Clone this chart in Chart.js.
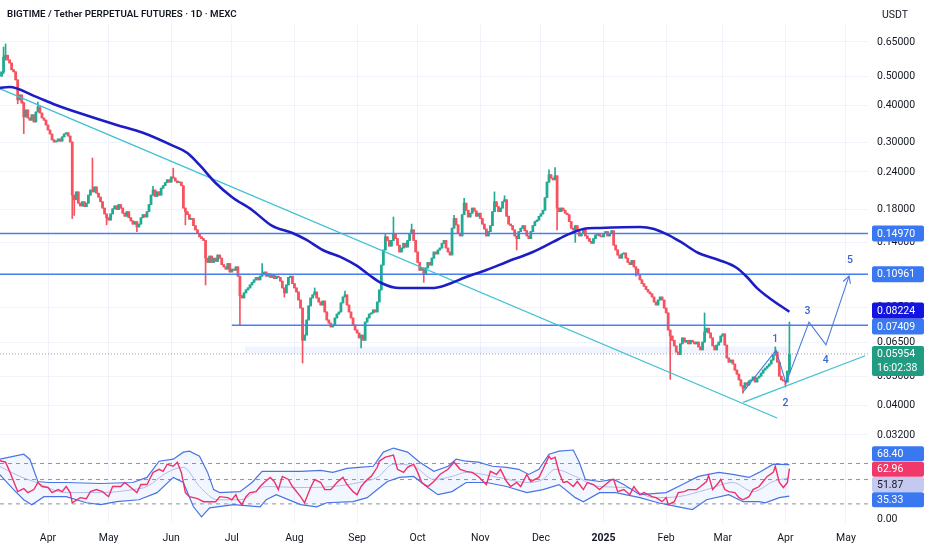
<!DOCTYPE html>
<html>
<head>
<meta charset="utf-8">
<script src="https://cdn.jsdelivr.net/npm/chart.js@4.4.1/dist/chart.umd.min.js"></script>
<style>
  html, body { margin: 0; padding: 0; background: #fff; }
  canvas { display: block; }
</style>
</head>
<body>
<canvas id="chart" width="932" height="550"></canvas>
<script>
/*===================================================================================*/
/*  data  (day 0 = 2024-04-01, one step = one daily candle)
/*===================================================================================*/
var title = 'BIGTIME / Tether PERPETUAL FUTURES \u00b7 1D \u00b7 MEXC';
var quote = 'USDT';
var countdown = '16:02:38';

var monthDays   = [0, 30, 61, 91, 122, 153, 183, 214, 244, 275, 306, 334, 365, 395];
var monthLabels = ['Apr', 'May', 'Jun', 'Jul', 'Aug', 'Sep', 'Oct', 'Nov', 'Dec', '2025', 'Feb', 'Mar', 'Apr', 'May'];
var priceTicks  = [0.65, 0.5, 0.4, 0.3, 0.24, 0.18, 0.14, 0.11, 0.085, 0.065, 0.05, 0.04, 0.032];

var firstDay  = -23;
var firstOpen = 0.500;
var closes = [
  0.5165, 0.579, 0.587, 0.566, 0.553, 0.525, 0.517, 0.486, 0.417, 0.433,
  0.407, 0.366, 0.386, 0.363, 0.357, 0.372, 0.352, 0.380, 0.395, 0.377,
  0.363, 0.357, 0.344, 0.331, 0.321, 0.307, 0.302, 0.304, 0.309, 0.304,
  0.314, 0.321, 0.324, 0.316, 0.302, 0.201, 0.194, 0.206, 0.189, 0.185,
  0.191, 0.184, 0.189, 0.201, 0.209, 0.206, 0.214, 0.204, 0.198, 0.191,
  0.182, 0.174, 0.169, 0.166, 0.174, 0.181, 0.185, 0.180, 0.187, 0.182,
  0.175, 0.171, 0.177, 0.169, 0.165, 0.161, 0.164, 0.1575, 0.161, 0.169,
  0.173, 0.170, 0.177, 0.187, 0.201, 0.209, 0.199, 0.206, 0.201, 0.212,
  0.216, 0.221, 0.226, 0.222, 0.231, 0.229, 0.224, 0.221, 0.222, 0.216,
  0.182, 0.177, 0.173, 0.167, 0.168, 0.159, 0.154, 0.150, 0.146, 0.144,
  0.142, 0.124, 0.120, 0.126, 0.120, 0.124, 0.121, 0.127, 0.124, 0.118,
  0.116, 0.114, 0.119, 0.1115, 0.114, 0.113, 0.116, 0.108, 0.093, 0.0914,
  0.095, 0.0972, 0.0987, 0.101, 0.103, 0.105, 0.107, 0.105, 0.108, 0.110,
  0.1115, 0.108, 0.110, 0.107, 0.109, 0.106, 0.108, 0.107, 0.104, 0.0987,
  0.095, 0.101, 0.107, 0.108, 0.102, 0.0987, 0.0957, 0.0900, 0.0846, 0.0661,
  0.0688, 0.0772, 0.0860, 0.0914, 0.0936, 0.0957, 0.0914, 0.0886, 0.0866, 0.0893,
  0.0821, 0.0772, 0.0754, 0.0732, 0.0743, 0.0784, 0.0808, 0.0821, 0.0880, 0.0921,
  0.0936, 0.0866, 0.0821, 0.0784, 0.0743, 0.0715, 0.0699, 0.0673, 0.0688, 0.0661,
  0.0760, 0.0784, 0.0808, 0.0815, 0.0834, 0.0821, 0.0886, 0.0972, 0.1176, 0.132,
  0.146, 0.142, 0.136, 0.142, 0.150, 0.144, 0.137, 0.130, 0.134, 0.139,
  0.135, 0.142, 0.150, 0.154, 0.142, 0.130, 0.120, 0.113, 0.115, 0.110,
  0.115, 0.120, 0.1176, 0.124, 0.130, 0.128, 0.132, 0.134, 0.139, 0.142,
  0.134, 0.130, 0.127, 0.156, 0.168, 0.160, 0.150, 0.147, 0.173, 0.189,
  0.179, 0.170, 0.175, 0.182, 0.178, 0.171, 0.175, 0.168, 0.161, 0.155,
  0.147, 0.152, 0.159, 0.177, 0.191, 0.184, 0.177, 0.182, 0.191, 0.194,
  0.171, 0.161, 0.159, 0.154, 0.147, 0.144, 0.152, 0.156, 0.159, 0.153,
  0.147, 0.144, 0.152, 0.159, 0.164, 0.166, 0.171, 0.174, 0.179, 0.197,
  0.222, 0.235, 0.229, 0.226, 0.233, 0.182, 0.177, 0.182, 0.179, 0.175,
  0.173, 0.164, 0.156, 0.154, 0.159, 0.152, 0.147, 0.150, 0.154, 0.147,
  0.144, 0.141, 0.139, 0.144, 0.148, 0.150, 0.147, 0.146, 0.150, 0.152,
  0.147, 0.150, 0.153, 0.137, 0.132, 0.127, 0.124, 0.128, 0.129, 0.124,
  0.120, 0.118, 0.122, 0.116, 0.114, 0.109, 0.105, 0.102, 0.100, 0.0975,
  0.0957, 0.0943, 0.0921, 0.0886, 0.0866, 0.0900, 0.0921, 0.0900, 0.0846, 0.0815,
  0.0715, 0.0683, 0.0661, 0.0633, 0.0604, 0.0592, 0.0643, 0.0673, 0.0652, 0.0661,
  0.0643, 0.0661, 0.0652, 0.0643, 0.0652, 0.0628, 0.0614, 0.0652, 0.0704, 0.0725,
  0.0699, 0.0673, 0.0633, 0.0614, 0.0637, 0.0652, 0.0683, 0.0694, 0.0637, 0.0577,
  0.0559, 0.0568, 0.0551, 0.0526, 0.0510, 0.0488, 0.0466, 0.0458, 0.0477, 0.0469,
  0.0484, 0.0488, 0.0499, 0.0480, 0.0495, 0.0502, 0.0514, 0.0526, 0.0534, 0.0542,
  0.0551, 0.0568, 0.0590, 0.0604, 0.0559, 0.0502, 0.0488, 0.0484, 0.0480, 0.0522,
  0.05954
];

// candles with visible wicks
var wickDays  = [-22, -21, -15, -12, -5, 12, 13, 22, 29, 44, 52, 62, 68, 78, 95, 106, 117, 126, 132, 147, 155,
                 167, 171, 180, 186, 201, 206, 221, 226, 232, 248, 251, 252, 261, 291, 308, 325, 344, 360, 365, 367];
var wickHighs = [0.625, 0.640, null, 0.410, 0.410, null, null, 0.267, null, null, 0.215, 0.247, null, null, null, 0.119,
                 null, null, 0.0987, 0.0964, null, 0.150, 0.170, 0.161, null, 0.172, 0.196, 0.206, 0.200, null,
                 0.244, 0.248, null, null, null, null, 0.0815, null, 0.0628, null, 0.0760];
var wickLows  = [0.510, 0.565, 0.405, 0.322, null, 0.168, 0.172, null, 0.160, 0.152, null, null, 0.160, 0.101, 0.0743,
                 null, 0.092, 0.0555, null, null, 0.0623, null, null, null, 0.103, null, null, null, null, 0.132,
                 null, null, 0.154, 0.140, 0.108, 0.0490, null, 0.0441, null, 0.0462, 0.0515];

// moving average
var maDays = [-24, -19, -7, 4, 17, 34, 47, 62, 69, 75, 83, 91, 101, 111, 121, 128, 136, 146, 153, 159,
              165, 174, 190, 197, 207, 217, 227, 240, 250, 257, 265, 273, 293, 300, 307, 314, 322, 332, 341, 346,
              351, 357, 367];
var maValues = [0.457, 0.460, 0.430, 0.401, 0.374, 0.344, 0.324, 0.293, 0.2777, 0.2533,
                0.2206, 0.1982, 0.1794, 0.1587, 0.1504, 0.1426, 0.1320, 0.1241, 0.1168, 0.1090,
                0.1025, 0.0986, 0.0986, 0.1009, 0.1073, 0.1132, 0.1204, 0.1300, 0.1404, 0.1482,
                0.1551, 0.1563, 0.1575, 0.1551, 0.1482, 0.1393, 0.1290, 0.1223, 0.1150, 0.1073,
                0.0986, 0.0914, 0.08224];

// drawings
var levelPrices = [0.14970, 0.10961, 0.07409];
var levelStarts = [-24, -24, 91];
var lastPrice = 0.05954;
var maLast = 0.08224;
var trendDownDays = [-24, 360.9];
var trendDownPrices = [0.455, 0.03643];
var trendUpDays = [344.1, 404.5];
var trendUpPrices = [0.0411, 0.0587];
var zoneDays = [97.5, 367.3];
var zonePrices = [0.0598, 0.0630];
var waveDays = [344, 360.4, 365.3, 376.7, 385.1, 396.5];
var wavePrices = [0.0444, 0.0613, 0.0476, 0.0760, 0.0638, 0.1081];
var waveLabels = ['1', '2', '3', '4', '5'];
var waveLabelDays = [360, 365, 376, 385, 397];
var waveLabelPrices = [0.0667, 0.0408, 0.0823, 0.0568, 0.1216];

// RSI pane
var rsiDays = [-24, -21, -19, -16, -15, -12, -10, -7, -5, -3, 0, 2, 5, 7, 9, 11, 12, 16, 19, 21,
  24, 27, 30, 32, 36, 38, 41, 44, 46, 49, 52, 55, 57, 59, 62, 64, 66, 68, 70, 74,
  77, 80, 83, 85, 89, 91, 93, 94, 96, 98, 100, 103, 105, 107, 110, 112, 114, 116, 119, 121,
  125, 127, 130, 132, 135, 137, 140, 143, 146, 148, 151, 153, 155, 158, 160, 163, 164, 167, 169, 171,
  173, 176, 178, 181, 183, 185, 188, 191, 194, 198, 201, 204, 207, 210, 213, 217, 219, 222, 224, 227,
  229, 232, 234, 237, 239, 243, 245, 248, 249, 251, 253, 255, 257, 260, 262, 265, 267, 270, 273, 276,
  279, 280, 282, 285, 288, 290, 293, 295, 299, 301, 304, 306, 307, 310, 312, 315, 317, 321, 323, 326,
  327, 329, 332, 333, 335, 337, 340, 342, 344, 347, 349, 352, 354, 356, 359, 360, 362, 364, 366, 367];
var rsiValues = [74.5, 72.0, 59.4, 43.2, 38.8, 41.4, 38.0, 40.5, 47.0, 43.2, 42.3, 38.0, 40.5, 38.8, 43.2, 38.0, 30.7, 34.2, 33.5, 38.8,
  40.5, 38.8, 34.9, 43.2, 43.2, 47.0, 42.3, 38.0, 45.0, 45.0, 58.1, 62.0, 59.4, 69.0, 66.1, 72.0, 58.1, 38.0, 34.9, 33.5,
  31.4, 31.4, 31.4, 34.9, 34.2, 32.7, 36.4, 32.7, 29.5, 34.9, 38.0, 38.8, 43.2, 47.0, 52.3, 48.0, 40.5, 53.4, 50.1, 43.2,
  34.9, 30.7, 42.3, 50.1, 47.0, 40.5, 40.5, 47.0, 52.3, 45.0, 38.8, 36.4, 43.2, 50.1, 53.4, 64.7, 73.5, 80.0, 81.7, 83.5,
  62.0, 58.1, 64.7, 69.0, 58.1, 47.0, 43.2, 48.0, 55.7, 62.0, 72.0, 62.0, 59.4, 58.1, 53.4, 45.0, 59.4, 55.7, 62.0, 48.0,
  43.2, 47.0, 43.2, 55.7, 48.0, 52.3, 62.0, 81.7, 76.7, 80.0, 58.1, 47.0, 48.0, 43.2, 48.0, 40.5, 47.0, 45.0, 40.5, 45.0,
  50.1, 50.1, 38.8, 40.5, 36.4, 43.2, 36.4, 38.0, 34.9, 34.2, 31.4, 34.2, 29.5, 31.4, 38.0, 38.8, 40.5, 40.5, 43.2, 48.0,
  54.6, 40.5, 47.0, 50.1, 40.5, 38.8, 38.0, 34.2, 32.7, 34.9, 40.5, 43.2, 48.0, 53.4, 58.1, 66.1, 47.0, 42.3, 47.0, 62.96];
var rsiUpper = [[-24, 76.7], [-19, 80.0], [-12, 85.2], [-9, 76.7], [-5, 48.0], [0, 47.0], [9, 47.0], [26, 46.0], [42, 47.0],
  [49, 52.3], [55, 73.5], [62, 76.7], [67, 88.9], [70, 90.9], [75, 81.7], [79, 58.1], [82, 40.5], [85, 38.0], [95, 38.8],
  [101, 47.0], [106, 59.4], [116, 59.4], [125, 59.4], [135, 60.7], [141, 58.1], [148, 63.3], [154, 64.7], [161, 66.1],
  [166, 89.0], [171, 96.9], [178, 89.0], [184, 72.0], [191, 59.4], [198, 66.1], [202, 76.7], [207, 73.5], [213, 72.0],
  [220, 66.1], [227, 64.7], [233, 62.0], [238, 55.7], [243, 62.0], [248, 85.2], [253, 90.9], [260, 93.0], [263, 72.0],
  [266, 50.1], [273, 48.0], [280, 50.1], [285, 45.0], [293, 36.4], [306, 38.0], [314, 45.0], [322, 53.4], [332, 58.1],
  [339, 55.7], [347, 52.3], [352, 58.1], [359, 69.0], [367, 68.40]];
var rsiLower = [[-24, 55.7], [-17, 40.5], [-12, 32.7], [-8, 29.5], [-2, 34.9], [9, 34.9], [19, 30.7], [26, 29.5], [34, 31.4],
  [45, 32.7], [54, 38.0], [62, 52.3], [67, 47.0], [72, 28.2], [76, 22.8], [80, 27.6], [92, 29.5], [105, 28.2], [108, 32.7],
  [113, 36.4], [125, 29.5], [133, 28.2], [138, 30.7], [151, 31.4], [158, 34.2], [163, 40.5], [168, 48.0], [174, 52.3],
  [181, 53.4], [188, 42.3], [193, 36.4], [200, 38.8], [207, 47.0], [217, 47.0], [227, 43.2], [237, 38.0], [245, 40.5],
  [253, 45.0], [261, 34.2], [265, 31.4], [273, 38.0], [281, 38.0], [293, 34.2], [302, 30.7], [312, 28.2], [319, 26.6],
  [326, 32.7], [337, 36.4], [344, 31.4], [352, 31.4], [355, 30.7], [362, 34.2], [367, 35.33]];
var rsiBasis = [[-24, 66.1], [-14, 53.4], [-7, 48.0], [9, 38.0], [26, 38.0], [42, 40.5], [49, 43.2], [59, 58.1], [67, 64.7],
  [75, 43.2], [84, 32.7], [95, 32.7], [108, 43.2], [125, 42.3], [141, 43.2], [154, 47.0], [163, 52.3], [171, 69.0],
  [181, 66.1], [191, 50.1], [200, 53.4], [207, 58.1], [223, 52.3], [237, 47.0], [245, 50.1], [251, 62.0], [261, 53.4],
  [273, 43.2], [286, 42.3], [300, 34.2], [312, 34.9], [326, 40.5], [339, 47.0], [349, 38.8], [359, 48.0], [367, 51.87]];
var rsiLevels = [70, 50, 30];
var rsiTagValues = [68.40, 62.96, 51.87, 35.33];
var rsiAxisText = '0.00';

/*===================================================================================*/
/*  styles
/*===================================================================================*/
var FONT = "Roboto, 'Noto Sans', sans-serif";
var TXT = '#131722';
var UP = '#22ab94', DOWN = '#f7525f';
var GRID = '#f0f3fa';
var LEVEL = '#4a7ff0';
var CYAN = '#3fc1d1';
var MA_COL = '#1d1dc6';
var WAVE = '#4a78e2';
var TAG_BLUE = '#3a78f2';
var levelTagColors = [TAG_BLUE, TAG_BLUE, TAG_BLUE];
var rsiTagColors = [TAG_BLUE, '#f0386b', '#c3c9f1', TAG_BLUE];
var rsiTagText = ['#fff', '#fff', TXT, '#fff'];

/*===================================================================================*/
/*  build datasets
/*===================================================================================*/
var candles = closes.map(function(c, i) {
    var d = firstDay + i;
    var o = i === 0 ? firstOpen : closes[i - 1];
    var h = Math.max(o, c), l = Math.min(o, c);
    var k = wickDays.indexOf(d);
    if (k >= 0) {
        if (wickHighs[k] !== null) h = Math.max(h, wickHighs[k]);
        if (wickLows[k] !== null) l = Math.min(l, wickLows[k]);
    }
    return { d: d, o: o, h: h, l: l, c: c };
});
var candleColors = candles.map(function(k) { return k.c >= k.o ? UP : DOWN; });

function pts(xs, ys) { return xs.map(function(x, i) { return { x: x, y: ys[i] }; }); }
function pairs(arr) { return arr.map(function(p) { return { x: p[0], y: p[1] }; }); }
function line(data, color, width, extra) {
    var ds = { type: 'line', data: data, borderColor: color, backgroundColor: color, borderWidth: width,
               pointRadius: 0, fill: false, tension: 0, yAxisID: 'y', order: 3 };
    for (var key in extra) ds[key] = extra[key];
    return ds;
}

var xMin = -23.76, xMax = 405.9;
var datasets = [
    { type: 'bar', data: candles.map(function(k) { return { x: k.d, y: [k.o, k.c] }; }),
      backgroundColor: candleColors, barThickness: 2.1, minBarLength: 1, grouped: false, yAxisID: 'y', order: 10 },
    { type: 'bar', data: candles.map(function(k) { return { x: k.d, y: [k.l, k.h] }; }),
      backgroundColor: candleColors, barThickness: 1, grouped: false, yAxisID: 'y', order: 11 },
    line(pts(maDays, maValues), MA_COL, 2.6, { cubicInterpolationMode: 'monotone', order: 2 }),
    line(pts(trendDownDays, trendDownPrices), CYAN, 1.3, {}),
    line(pts(trendUpDays, trendUpPrices), CYAN, 1.3, {}),
    line([{ x: xMin, y: lastPrice }, { x: xMax, y: lastPrice }], '#9aa0ad', 1, { borderDash: [1, 2], order: 4 }),
    line(pts(waveDays, wavePrices), WAVE, 1.1, { order: 1 })
];
levelPrices.forEach(function(p, i) {
    datasets.push(line([{ x: levelStarts[i], y: p }, { x: xMax, y: p }], LEVEL, 1.5, {}));
});
// RSI pane
datasets.push(line(pairs(rsiUpper), '#4a74e4', 1.2, { yAxisID: 'osc', order: 2, fill: '+1', backgroundColor: 'rgba(41,98,255,0.06)' }));
datasets.push(line(pairs(rsiLower), '#4a74e4', 1.2, { yAxisID: 'osc', order: 2 }));
datasets.push(line(pairs(rsiBasis), '#bcc1e6', 1, { yAxisID: 'osc', order: 3, cubicInterpolationMode: 'monotone' }));
rsiLevels.forEach(function(v) {
    datasets.push(line([{ x: xMin, y: v }, { x: xMax, y: v }], '#8d93a0', 1, { yAxisID: 'osc', borderDash: [4, 4], order: 5 }));
});
datasets.push(line(pts(rsiDays, rsiValues), '#f0306a', 1.4, { yAxisID: 'osc', order: 1 }));

/*===================================================================================*/
/*  overlay: zone, arrow, labels, axis tags
/*===================================================================================*/
function spread(ys, gap) {
    var order = ys.map(function(y, i) { return { y: y, i: i }; }).sort(function(a, b) { return a.y - b.y; });
    var groups = order.map(function(o) { return [o]; });
    var centre = function(g) { return g.reduce(function(s, o) { return s + o.y; }, 0) / g.length; };
    var changed = true;
    while (changed) {
        changed = false;
        for (var k = 0; k < groups.length - 1; k++) {
            var a = groups[k], b = groups[k + 1];
            var aBottom = centre(a) + (a.length - 1) * gap / 2;
            var bTop = centre(b) - (b.length - 1) * gap / 2;
            if (bTop - aBottom < gap - 0.5) {
                groups.splice(k, 2, a.concat(b));
                changed = true;
                break;
            }
        }
    }
    var out = [];
    groups.forEach(function(g) {
        var c = centre(g);
        g.forEach(function(o, j) { out[o.i] = c - (g.length - 1) * gap / 2 + j * gap; });
    });
    return out;
}

function box(ctx, x, y, w, h, bg) {
    ctx.fillStyle = bg;
    ctx.beginPath();
    if (ctx.roundRect) ctx.roundRect(x, y, w, h, 2); else ctx.rect(x, y, w, h);
    ctx.fill();
}

var overlay = {
    id: 'overlay',
    beforeDatasetsDraw: function(chart) {
        var ctx = chart.ctx, x = chart.scales.x, y = chart.scales.y;
        var x0 = x.getPixelForValue(zoneDays[0]), x1 = x.getPixelForValue(zoneDays[1]);
        var y0 = y.getPixelForValue(zonePrices[1]), y1 = y.getPixelForValue(zonePrices[0]);
        ctx.save();
        ctx.fillStyle = 'rgba(41,98,255,0.07)';
        ctx.fillRect(x0, y0, x1 - x0, y1 - y0);
        ctx.restore();
    },
    afterDatasetsDraw: function(chart) {
        var ctx = chart.ctx, x = chart.scales.x, y = chart.scales.y;
        var n = waveDays.length;
        var ax = x.getPixelForValue(waveDays[n - 2]), ay = y.getPixelForValue(wavePrices[n - 2]);
        var bx = x.getPixelForValue(waveDays[n - 1]), by = y.getPixelForValue(wavePrices[n - 1]);
        var ang = Math.atan2(by - ay, bx - ax);
        ctx.save();
        ctx.strokeStyle = WAVE;
        ctx.lineWidth = 1.1;
        ctx.beginPath();
        ctx.moveTo(bx - 8 * Math.cos(ang - 0.5), by - 8 * Math.sin(ang - 0.5));
        ctx.lineTo(bx, by);
        ctx.lineTo(bx - 8 * Math.cos(ang + 0.5), by - 8 * Math.sin(ang + 0.5));
        ctx.stroke();
        ctx.fillStyle = '#3a63d6';
        ctx.font = '500 10.5px ' + FONT;
        ctx.textAlign = 'center';
        ctx.textBaseline = 'middle';
        waveLabels.forEach(function(t, i) {
            ctx.fillText(t, x.getPixelForValue(waveLabelDays[i]), y.getPixelForValue(waveLabelPrices[i]));
        });
        ctx.restore();
    },
    afterDraw: function(chart) {
        var ctx = chart.ctx, y = chart.scales.y, osc = chart.scales.osc;
        var left = chart.chartArea.right + 4, w = 52, tx = left + 5;
        ctx.save();
        // title
        var fs = 13;
        ctx.font = '600 ' + fs + 'px ' + FONT;
        while (ctx.measureText(title).width > 234 && fs > 8) { fs -= 0.25; ctx.font = '600 ' + fs + 'px ' + FONT; }
        ctx.fillStyle = TXT;
        ctx.textBaseline = 'middle';
        ctx.textAlign = 'left';
        ctx.fillText(title, 7, 15);
        ctx.font = '10.5px ' + FONT;
        ctx.fillText(quote, 882, 15);

        // price tags
        ctx.font = '10.5px ' + FONT;
        var vals = levelPrices.concat([maLast]);
        var cols = levelTagColors.concat(['#1414e0']);
        var ys = spread(vals.map(function(v) { return y.getPixelForValue(v); }), 16);
        vals.forEach(function(v, i) {
            box(ctx, left, ys[i] - 8, w, 16, cols[i]);
            ctx.fillStyle = '#fff';
            ctx.fillText(v.toFixed(5), tx, ys[i] + 0.5);
        });
        var py = y.getPixelForValue(lastPrice);
        box(ctx, left, py - 8, w, 30, '#1f9c82');
        ctx.fillStyle = '#fff';
        ctx.fillText(lastPrice.toFixed(5), tx, py + 0.5);
        ctx.fillText(countdown, tx, py + 14);

        // rsi tags
        var rys = spread(rsiTagValues.map(function(v) { return osc.getPixelForValue(v); }), 15.3);
        rsiTagValues.forEach(function(v, i) {
            box(ctx, left, rys[i] - 7.5, w, 15, rsiTagColors[i]);
            ctx.fillStyle = rsiTagText[i];
            ctx.fillText(v.toFixed(2), tx, rys[i] + 0.5);
        });
        ctx.fillStyle = TXT;
        ctx.fillText(rsiAxisText, tx, osc.bottom - 4);
        ctx.restore();
    }
};

/*===================================================================================*/
/*  chart
/*===================================================================================*/
var ctx = document.getElementById('chart');
var myChart = new Chart(ctx, {
    type: 'bar',
    data: { datasets: datasets },
    options: {
        responsive: false,
        animation: false,
        layout: { padding: { top: 25 } },
        plugins: { legend: { display: false }, tooltip: { enabled: false } },
        scales: {
            x: {
                type: 'linear', axis: 'x', min: xMin, max: xMax, offset: false,
                grid: { color: GRID, drawTicks: false, offset: false },
                border: { display: false },
                afterBuildTicks: function(s) { s.ticks = monthDays.map(function(v) { return { value: v }; }); },
                afterFit: function(s) { s.height = 27; },
                ticks: {
                    autoSkip: false, maxRotation: 0, padding: 9, color: TXT,
                    font: function(c) { return { family: FONT, size: 10.5, weight: monthLabels[c.index] === '2025' ? 'bold' : 'normal' }; },
                    callback: function(v) { var i = monthDays.indexOf(v); return i < 0 ? '' : monthLabels[i]; }
                }
            },
            y: {
                type: 'logarithmic', axis: 'y', position: 'right', stack: 'pane', stackWeight: 416,
                min: 0.03055, max: 0.740,
                grid: { color: GRID, drawTicks: false },
                border: { display: false },
                afterBuildTicks: function(s) { s.ticks = priceTicks.map(function(v) { return { value: v }; }); },
                afterFit: function(s) { s.width = 64; },
                ticks: {
                    autoSkip: false, padding: 9, color: TXT, font: { family: FONT, size: 10.5 },
                    callback: function(v) { return Number(v).toFixed(5); }
                }
            },
            osc: {
                type: 'logarithmic', axis: 'y', position: 'right', stack: 'pane', stackWeight: 82,
                min: 20.07, max: 112.4,
                grid: { display: false },
                border: { display: false },
                ticks: { display: false },
                afterFit: function(s) { s.width = 64; }
            }
        }
    },
    plugins: [overlay]
});
</script>
</body>
</html>
